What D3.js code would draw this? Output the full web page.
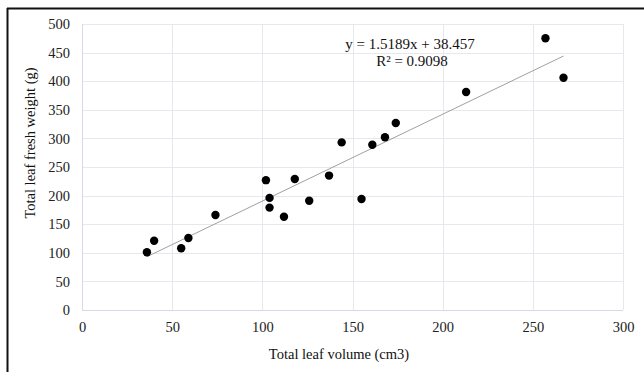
<!DOCTYPE html>
<html>
<head>
<meta charset="utf-8">
<script src="https://cdn.jsdelivr.net/npm/d3@7"></script>
<style>
  body { margin: 0; background: #fff; }
  svg { display: block; }
</style>
</head>
<body>
<div id="chart"></div>
<script>
// leaf volume (cm3) vs fresh weight (g)
var volume = [36, 40, 55, 59, 74, 102, 104, 104, 112, 118, 126, 137, 144, 155, 161, 168, 174, 213, 257, 267];
var weight = [101, 121, 108, 126, 166, 227, 196, 179, 163, 229, 191, 235, 293, 194, 289, 302, 327, 381, 475, 406];
var xTicks = [0, 50, 100, 150, 200, 250, 300];
var yTicks = [0, 50, 100, 150, 200, 250, 300, 350, 400, 450, 500];
var slope = 1.5189, intercept = 38.457;
var eqText = "y = 1.5189x + 38.457";
var r2Text = "R² = 0.9098";

var width = 644, height = 372;
var margin = { left: 82, top: 24, right: 21, bottom: 62 };
var innerWidth = width - margin.left - margin.right;
var innerHeight = height - margin.top - margin.bottom;
var font = "'Liberation Serif', 'Times New Roman', serif";

var svg = d3.select("#chart").append("svg")
  .attr("width", width)
  .attr("height", height);

// outer frame (only top and left edges show in the crop)
svg.append("line").attr("x1", 7).attr("y1", 8.5).attr("x2", width).attr("y2", 8.5)
  .attr("stroke", "#111").attr("stroke-width", 2);
svg.append("line").attr("x1", 7.5).attr("y1", 8).attr("x2", 7.5).attr("y2", height)
  .attr("stroke", "#111").attr("stroke-width", 2);

var g = svg.append("g")
  .attr("transform", "translate(" + margin.left + "," + margin.top + ")");

var x = d3.scaleLinear().domain([0, 300]).range([0, innerWidth]);
var y = d3.scaleLinear().domain([0, 500]).range([innerHeight, 0]);

// grid
g.append("g").selectAll("line").data(yTicks).join("line")
  .attr("x1", 0).attr("x2", innerWidth)
  .attr("y1", d => Math.round(y(d)) + 0.5).attr("y2", d => Math.round(y(d)) + 0.5)
  .attr("stroke", "#e6e8ee");
g.append("g").selectAll("line").data(xTicks).join("line")
  .attr("y1", 0).attr("y2", innerHeight)
  .attr("x1", d => Math.round(x(d)) + 0.5).attr("x2", d => Math.round(x(d)) + 0.5)
  .attr("stroke", "#e6e8ee");

// axis lines
g.append("line").attr("x1", 0.5).attr("x2", 0.5).attr("y1", 0).attr("y2", innerHeight)
  .attr("stroke", "#d5dae6");
g.append("line").attr("x1", 0).attr("x2", innerWidth)
  .attr("y1", Math.round(innerHeight) + 0.5).attr("y2", Math.round(innerHeight) + 0.5)
  .attr("stroke", "#d5dae6");

// tick labels
var xAxis = d3.axisBottom(x).tickValues(xTicks).tickSize(0).tickPadding(12);
var yAxis = d3.axisLeft(y).tickValues(yTicks).tickSize(0).tickPadding(12);

var xAxisG = g.append("g").attr("transform", "translate(0," + innerHeight + ")").call(xAxis);
var yAxisG = g.append("g").call(yAxis);
[xAxisG, yAxisG].forEach(function (a) {
  a.select(".domain").remove();
  a.selectAll("text")
    .style("font-family", font)
    .style("font-size", "14.5px")
    .attr("fill", "#222");
});

// trend line over the data range
var xr = d3.extent(volume);
g.append("line")
  .attr("x1", x(xr[0])).attr("y1", y(slope * xr[0] + intercept))
  .attr("x2", x(xr[1])).attr("y2", y(slope * xr[1] + intercept))
  .attr("stroke", "#a0a0a0").attr("stroke-width", 1);

// points
g.append("g").selectAll("circle").data(volume).join("circle")
  .attr("cx", (d, i) => x(d))
  .attr("cy", (d, i) => y(weight[i]))
  .attr("r", 4.2)
  .attr("fill", "#000");

// equation label
var eq = svg.append("text")
  .attr("x", 410).attr("y", 49)
  .attr("text-anchor", "middle")
  .style("font-family", font).style("font-size", "15px").attr("fill", "#111");
eq.append("tspan").attr("x", 410).text(eqText);
eq.append("tspan").attr("x", 412).attr("dy", 17).text(r2Text);

// axis titles
svg.append("text")
  .attr("x", 339).attr("y", 359)
  .attr("text-anchor", "middle")
  .style("font-family", font).style("font-size", "14.5px").attr("fill", "#111")
  .text("Total leaf volume (cm3)");

svg.append("text")
  .attr("transform", "translate(35," + 143 + ") rotate(-90)")
  .attr("text-anchor", "middle")
  .style("font-family", font).style("font-size", "14.5px").attr("fill", "#111")
  .text("Total leaf fresh weight (g)");
</script>
</body>
</html>
